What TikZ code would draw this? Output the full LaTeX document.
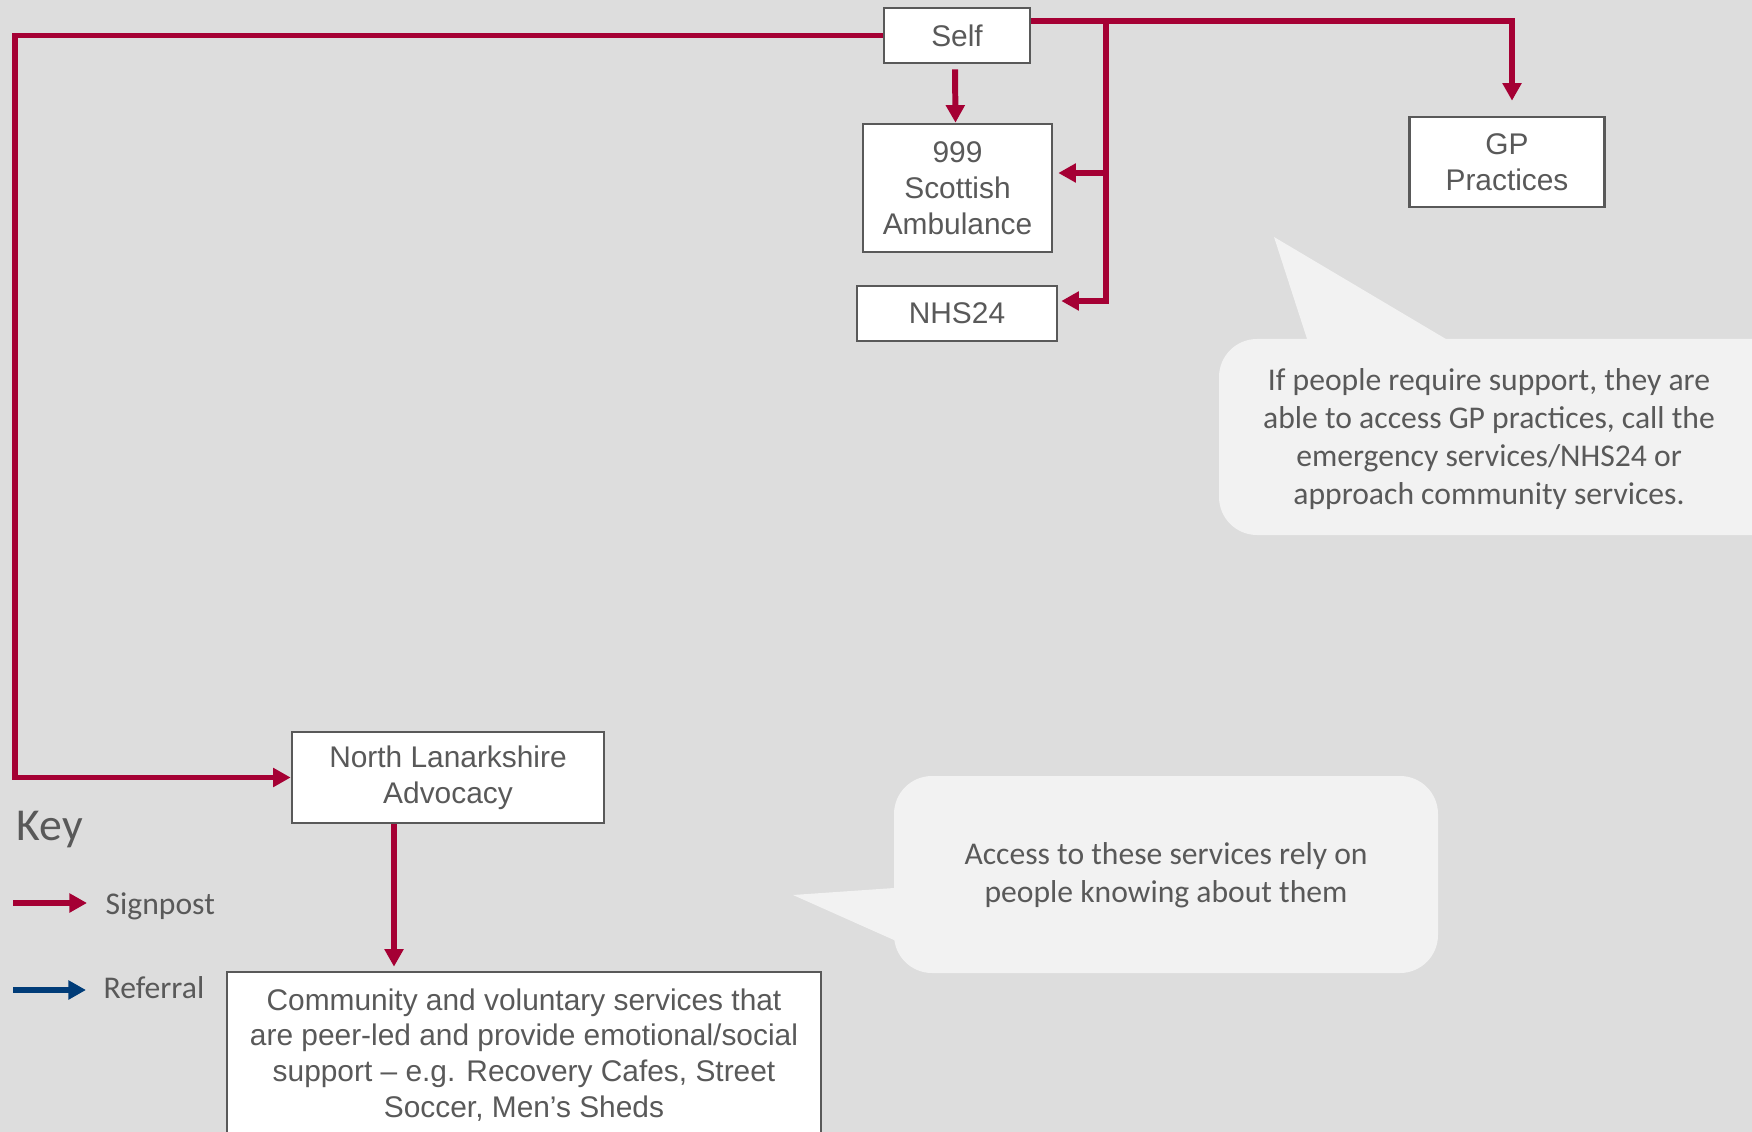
\documentclass[tikz,border=0pt]{standalone}
\usepackage{fontspec}
\setmainfont{Liberation Sans}
\newfontfamily\callout{Carlito}
\usetikzlibrary{arrows.meta}
\definecolor{bggrey}{RGB}{221,221,221}
\definecolor{boxgrey}{RGB}{89,89,89}
\definecolor{signred}{RGB}{165,0,52}
\definecolor{refblue}{RGB}{0,60,120}
\definecolor{notegrey}{RGB}{242,242,242}
\tikzset{
  service/.style={draw=boxgrey, line width=0.75pt, fill=white, text=boxgrey, align=center, inner sep=0pt, font=\fontsize{8.5}{10.2}\selectfont},
  signpost/.style={draw=signred, line width=1.7pt, -{Triangle[length=5pt,width=5.2pt]}},
  referral/.style={draw=refblue, line width=1.7pt, -{Triangle[length=5pt,width=5.2pt]}},
  note/.style={fill=notegrey, rounded corners=0.38cm},
  notetext/.style={text=boxgrey, align=center, inner sep=0pt, font=\callout\fontsize{9}{10.8}\selectfont},
  keytext/.style={text=boxgrey, inner sep=0pt, font=\callout\fontsize{9}{11}\selectfont}
}
\begin{document}
\begin{tikzpicture}
                \useasboundingbox (0,0) rectangle (17.52,-11.32);
                \fill [bggrey] (0,0) rectangle (17.52,-11.32);
                \fill [notegrey] (12.74,-2.37) -- (13.09,-3.45) -- (14.56,-3.45) -- cycle;
                \fill [note] (12.19,-3.39) rectangle (17.9,-5.35);
                \node [notetext] (note1) at (14.89,-4.39) {If people require support, they are\\able to access GP practices, call the\\emergency services/NHS24 or\\approach community services.};
                \fill [notegrey] (7.93,-8.95) -- (9.0,-8.876) -- (9.0,-9.427) -- cycle;
                \fill [note] (8.94,-7.76) rectangle (14.38,-9.73);
                \node [notetext] (note2) at (11.66,-8.75) {Access to these services rely on\\people knowing about them};
                \node [service, minimum width=1.46cm, minimum height=0.55cm] (self) at (9.57,-0.355) {Self};
                \node [service, minimum width=1.89cm, minimum height=1.28cm] (amb) at (9.575,-1.88) {999\\Scottish\\Ambulance};
                \node [service, minimum width=2.00cm, minimum height=0.55cm] (nhs) at (9.57,-3.135) {NHS24};
                \node [service, minimum width=1.95cm, minimum height=0.90cm] (gp) at (15.07,-1.62) {GP\\Practices};
                \node [service, minimum width=3.12cm, minimum height=0.91cm] (nla) at (4.48,-7.775) {North Lanarkshire\\Advocacy};
                \node [service, minimum width=5.94cm, minimum height=1.66cm] (comm) at (5.24,-10.55) {Community and voluntary services that\\are peer-led and provide emotional/social\\support -- e.g. Recovery Cafes, Street\\Soccer, Men's Sheds};
                \coordinate (lft) at (0.15,-0.355);
                \coordinate (topr) at (11.06,-0.22);
                \coordinate (nlaout) at ([xshift=-0.54cm]nla.south);
                \draw [signpost] (self.west) -- (lft) |- (nla.west);
                \draw [signpost] ([yshift=-0.14cm]self.north east) -| ([xshift=0.05cm,yshift=0.15cm]gp.north);
                \draw [signpost] (topr) |- ([xshift=0.05cm,yshift=0.15cm]amb.east);
                \draw [signpost] (topr) |- ([xshift=0.03cm,yshift=0.125cm]nhs.east);
                \draw [signpost] ([xshift=-0.02cm,yshift=-0.05cm]self.south) -- ([xshift=-0.02cm]amb.north);
                \draw [signpost, shorten >=0.04cm] (nlaout) -- (nlaout |- comm.north);
                \node [anchor=base west, inner sep=0pt, text=boxgrey, font=\callout\fontsize{13}{15}\selectfont] (key) at (0.16,-8.40) {Key};
                \coordinate (sp1) at (0.13,-9.03);
                \coordinate (sp2) at (0.87,-9.03);
                \coordinate (rf1) at (0.13,-9.90);
                \coordinate (rf2) at (0.86,-9.90);
                \draw [signpost] (sp1) -- (sp2);
                \draw [referral] (rf1) -- (rf2);
                \node [keytext, anchor=west] (sptext) at (1.05,-9.06) {Signpost};
                \node [keytext, anchor=west] (rftext) at (1.03,-9.88) {Referral};
            \end{tikzpicture}
\end{document}
